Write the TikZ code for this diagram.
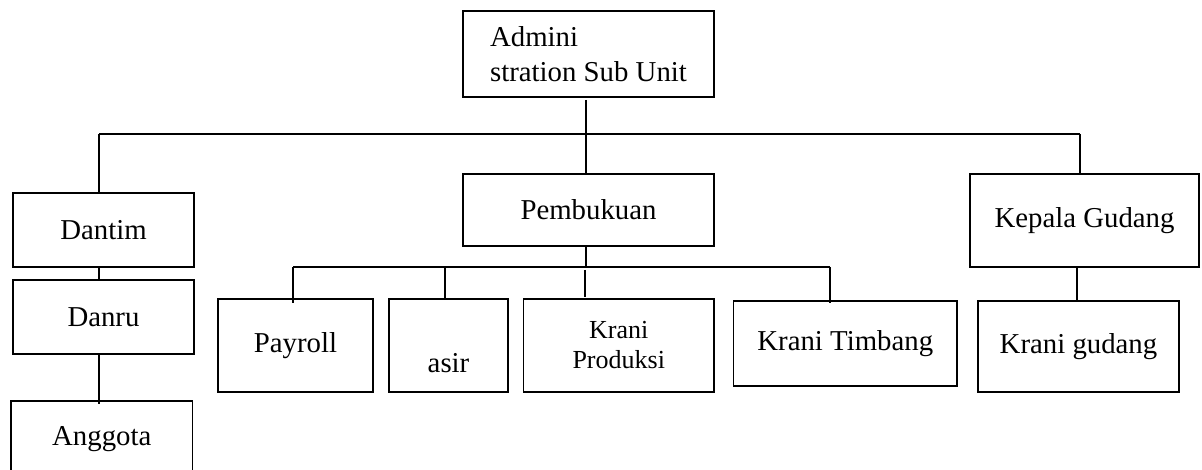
\documentclass[tikz,border=0pt]{standalone}
\usepackage{fontspec}
\setmainfont{Liberation Serif}
\begin{document}
\begin{tikzpicture}[x=1pt,y=-1pt,
  box/.style={draw,line width=1.8pt,inner sep=0pt,outer sep=0pt,
    font=\fontsize{28.8}{34.6}\selectfont},
  conn/.style={line width=1.8pt}]
\path[use as bounding box] (0,0) rectangle (1202,470);
\clip (0,0) rectangle (1202,470);
% boxes
\node[box,minimum width=251pt,minimum height=86pt,align=left] (top) at (588.5,54) {Admini\\stration Sub Unit};
\node[box,minimum width=251pt,minimum height=72pt] (pemb) at (588.5,210) {Pembukuan};
\node[box,minimum width=181pt,minimum height=74pt] (dantim) at (103.5,230) {Dantim};
\node[box,minimum width=181pt,minimum height=74pt] (danru) at (103.5,317) {Danru};
\node[box,minimum width=181.5pt,minimum height=76pt] (anggota) at (101.75,439) {Anggota};
\node[box,minimum width=155pt,minimum height=93pt] (payroll) at (295.5,345.5) {Payroll};
\node[box,minimum width=119pt,minimum height=93pt,text height=59pt,text depth=6pt] (asir) at (448.5,345.5) {asir};
\node[box,minimum width=190.5pt,minimum height=93pt,align=center,font=\fontsize{26}{30}\selectfont] (kprod) at (618.75,345.5) {Krani\\Produksi};
\node[box,minimum width=223.5pt,minimum height=85pt] (ktimb) at (845.25,343.5) {Krani Timbang};
\node[box,minimum width=229pt,minimum height=93pt] (kepala) at (1084.5,220.5) {Kepala Gudang};
\node[box,minimum width=201pt,minimum height=91pt] (kgud) at (1078.5,346.5) {Krani gudang};
% bus coordinates
\coordinate (busL) at (99,134);
\coordinate (busM) at (586,134);
\coordinate (busR) at (1080,134);
\coordinate (b2L) at (293,267);
\coordinate (b2M) at (586,267);
\coordinate (b2A) at (445,267);
\coordinate (b2K) at (585,270);
\coordinate (b2R) at (830,267);
% connectors
\draw[conn] (busL) -- (busR);
\draw[conn] (busM |- top.south) ++(0,3) -- (busM |- pemb.north);
\draw[conn] (busL) -- (busL |- dantim.north);
\draw[conn] (busR) -- (busR |- kepala.north);
\draw[conn] (busL |- dantim.south) -- (busL |- danru.north);
\draw[conn] (busL |- danru.south) -- ([yshift=-3pt]busL |- anggota.north);
\draw[conn] (b2M |- pemb.south) -- (b2M);
\draw[conn] (b2L) -- (b2R);
\draw[conn] (b2L) -- ([yshift=-4pt]b2L |- payroll.north);
\draw[conn] (b2A) -- ([yshift=-1pt]b2A |- asir.north);
\draw[conn] (b2K) -- ([yshift=2pt]b2K |- kprod.north);
\draw[conn] (b2R) -- ([yshift=-2pt]b2R |- ktimb.north);
\draw[conn] (kgud.north -| 1077,0) -- (kepala.south -| 1077,0);
\end{tikzpicture}
\end{document}
